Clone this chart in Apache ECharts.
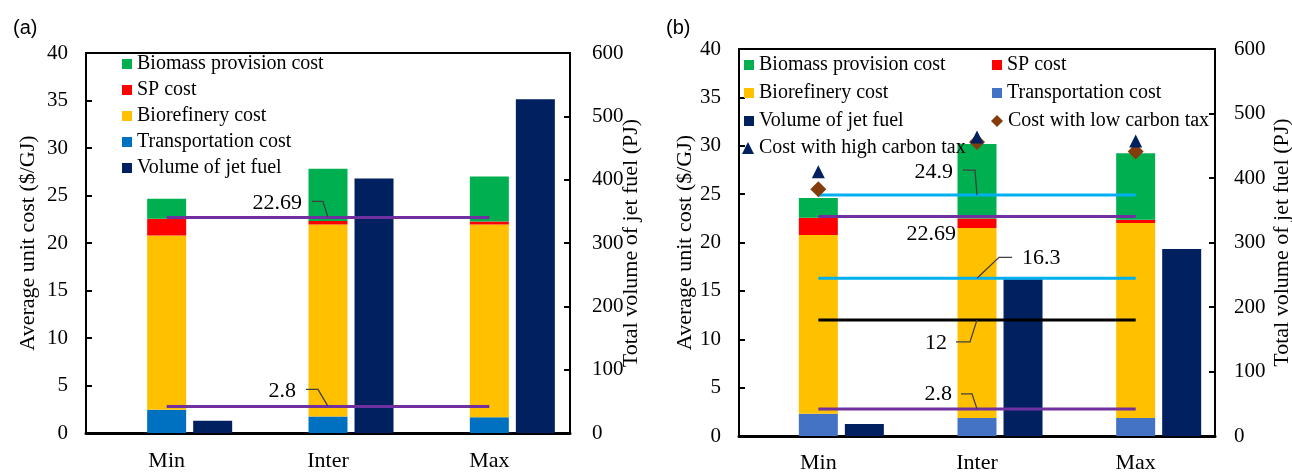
<!DOCTYPE html>
<html><head><meta charset="utf-8">
<script src="https://cdn.jsdelivr.net/npm/echarts@6/dist/echarts.min.js"></script>
<style>
html,body{margin:0;padding:0;background:#fff;}
#wrap{position:relative;width:1292px;height:473px;overflow:hidden;}
#ca{position:absolute;left:0;top:0;width:646px;height:473px;}
#cb{position:absolute;left:646px;top:0;width:646px;height:473px;}
</style>
</head><body>
<div id="wrap"><div id="ca"></div><div id="cb"></div></div>
<script>
// ---------- data ----------
const categories = ['Min', 'Inter', 'Max'];
const costAxisRange = [0, 40, 5];      // min, max, interval ($/GJ)
const volumeAxisRange = [0, 600, 100]; // min, max, interval (PJ)

// Panel (a)
const transportA   = [2.45, 1.75, 1.65];
const biorefineryA = [18.35, 20.2, 20.3];
const spA          = [1.75, 0.37, 0.32];
const biomassA     = [2.1, 5.5, 4.73];
const volumeA      = [19.5, 402, 527];
const refLinesA    = [22.69, 2.8];

// Panel (b)
const transportB   = [2.3, 1.86, 1.86];
const biorefineryB = [18.48, 19.65, 20.15];
const spB          = [1.79, 0.96, 0.34];
const biomassB     = [2.04, 7.7, 6.87];
const volumeB      = [18.6, 243, 290];
const lowTaxB      = [25.5, 30.4, 29.4];
const highTaxB     = [27.3, 30.9, 30.5];
const refLinesB    = [24.9, 22.69, 16.3, 12, 2.8];

// ---------- styles ----------
const SERIF = '"Liberation Serif", "Times New Roman", serif';
const C = {
  biomass: '#00B050', sp: '#FF0000', biorefinery: '#FFC000',
  transportA: '#0070C0', transportB: '#4472C4', volume: '#002060',
  purple: '#7030A0', cyan: '#00B0F0', black: '#000000',
  low: '#843C0C', high: '#002060'
};
const refLineColorsA = [C.purple, C.purple];
const refLineColorsB = [C.cyan, C.purple, C.cyan, C.black, C.purple];

// annotation layout (pixel offsets from the reference line at the "Inter" category)
const annotLayoutA = [
  { leader: [[0,0],[-5,-16],[-16,-16]], tx: -26, ty: -14, align: 'right' },
  { leader: [[0,0],[-10,-17],[-22,-17]], tx: -32, ty: -15, align: 'right' }
];
const annotLayoutB = [
  { leader: [[0,0],[-2,-25],[-14,-25]], tx: -24, ty: -23, align: 'right' },
  { leader: null, tx: -21, ty: 18, align: 'right' },
  { leader: [[0,0],[22,-21],[35,-21]], tx: 45, ty: -20, align: 'left' },
  { leader: [[0,0],[-7,22],[-21,22]], tx: -30, ty: 23, align: 'right' },
  { leader: [[0,0],[-5,-15],[-16,-15]], tx: -25, ty: -15, align: 'right' }
];

function annotRenderer(layout) {
  return function (params, api) {
    const L = layout[params.dataIndex];
    const p = api.coord([api.value(0), api.value(1)]);
    const children = [];
    if (L.leader) {
      children.push({
        type: 'polyline',
        shape: { points: L.leader.map(d => [p[0] + d[0], p[1] + d[1]]) },
        style: { stroke: '#404040', lineWidth: 1.3, fill: null }
      });
    }
    children.push({
      type: 'text',
      style: {
        text: String(api.value(1)), x: p[0] + L.tx, y: p[1] + L.ty,
        align: L.align, verticalAlign: 'middle',
        fontFamily: SERIF, fontSize: 22, fill: '#000'
      }
    });
    return { type: 'group', children };
  };
}

function axes(g) {
  const lab = { color: '#000', fontFamily: SERIF, fontSize: 21 };
  return {
    xAxis: {
      type: 'category', data: categories,
      axisLine: { lineStyle: { color: '#000', width: 3 } },
      axisTick: { show: false },
      axisLabel: { color: '#000', fontFamily: SERIF, fontSize: 22, margin: g.xMargin }
    },
    yAxis: [
      {
        type: 'value', position: 'left',
        min: costAxisRange[0], max: costAxisRange[1], interval: costAxisRange[2],
        name: 'Average unit cost ($/GJ)', nameLocation: 'middle', nameRotate: 90, nameGap: g.leftGap,
        nameMoveOverlap: false,
        nameTextStyle: { color: '#000', fontFamily: SERIF, fontSize: 22 },
        axisLine: { show: true, lineStyle: { color: '#000', width: 2 } },
        axisTick: { show: true, inside: true, length: 6, lineStyle: { color: '#000', width: 2 } },
        axisLabel: Object.assign({ margin: 18 }, lab),
        splitLine: { show: false }
      },
      {
        type: 'value', position: 'right',
        min: volumeAxisRange[0], max: volumeAxisRange[1], interval: volumeAxisRange[2],
        name: 'Total volume of jet fuel (PJ)', nameLocation: 'middle', nameRotate: 90, nameGap: g.rightGap,
        nameMoveOverlap: false,
        nameTextStyle: { color: '#000', fontFamily: SERIF, fontSize: 22 },
        axisLine: { show: true, lineStyle: { color: '#000', width: 2 } },
        axisTick: { show: true, inside: true, length: 6, lineStyle: { color: '#000', width: 2 } },
        axisLabel: Object.assign({ margin: g.rightMargin }, lab),
        splitLine: { show: false }
      }
    ]
  };
}

const BW = 39, GAP = '18%';
function barSeries(name, data, color, extra) {
  return Object.assign({
    name, type: 'bar', data, barWidth: BW, barGap: GAP,
    itemStyle: { color }, silent: true
  }, extra || {});
}
function stackSeries(t, b, s, m, tColor) {
  return [
    barSeries('spacer', categories.map(() => null), 'transparent'),
    barSeries('Transportation cost', t, tColor, { stack: 'cost' }),
    barSeries('Biorefinery cost', b, C.biorefinery, { stack: 'cost' }),
    barSeries('SP cost', s, C.sp, { stack: 'cost' }),
    barSeries('Biomass provision cost', m, C.biomass, { stack: 'cost' })
  ];
}
function refLineSeries(values, colors) {
  return values.map((v, i) => ({
    name: 'ref' + i, type: 'line', data: categories.map(() => v),
    symbol: 'none', silent: true, z: 3,
    lineStyle: { color: colors[i], width: 3 }
  }));
}
function annotSeries(values, layout) {
  return {
    name: 'annot', type: 'custom', clip: false, silent: true, z: 6,
    data: values.map(v => [categories[1], v]),
    renderItem: annotRenderer(layout)
  };
}
const legendText = { color: '#000', fontFamily: SERIF, fontSize: 20, lineHeight: 20 };
const titleStyle = { color: '#000', fontFamily: '"Liberation Sans", Arial, sans-serif', fontSize: 20, fontWeight: 'normal' };
const legendBase = { orient: 'vertical', padding: 0, textStyle: legendText, selectedMode: false };

// ---------- panel (a) ----------
const optA = Object.assign({
  animation: false,
  title: { text: '(a)', left: 8, top: 13, textStyle: titleStyle },
  grid: { left: 86, right: 76, top: 53, bottom: 40, show: true, borderColor: '#000', borderWidth: 2,
          outerBoundsMode: 'none', containLabel: false },
  legend: [Object.assign({}, legendBase, {
    left: 122, top: 54, itemWidth: 10, itemHeight: 10, itemGap: 6, icon: 'rect',
    data: ['Biomass provision cost', 'SP cost', 'Biorefinery cost', 'Transportation cost', 'Volume of jet fuel']
  })],
  series: [].concat(
    stackSeries(transportA, biorefineryA, spA, biomassA, C.transportA),
    [barSeries('Volume of jet fuel', volumeA, C.volume, { yAxisIndex: 1 })],
    refLineSeries(refLinesA, refLineColorsA),
    [annotSeries(refLinesA, annotLayoutA)]
  )
}, axes({ xMargin: 17, leftGap: 47, rightGap: 50, rightMargin: 22 }));

// ---------- panel (b) ----------
const optB = Object.assign({
  animation: false,
  title: { text: '(b)', left: 15, top: 13, textStyle: titleStyle },
  grid: { left: 93, right: 77, top: 49, bottom: 37, show: true, borderColor: '#000', borderWidth: 2,
          outerBoundsMode: 'none', containLabel: false },
  legend: [
    Object.assign({}, legendBase, { left: 98, top: 55, itemWidth: 10, itemHeight: 10, itemGap: 8, icon: 'rect',
      data: ['Biomass provision cost', 'Biorefinery cost', 'Volume of jet fuel'] }),
    Object.assign({}, legendBase, { left: 96, top: 138, itemWidth: 12, itemHeight: 12, itemGap: 8,
      data: ['Cost with high carbon tax'] }),
    Object.assign({}, legendBase, { left: 346, top: 55, itemWidth: 10, itemHeight: 10, itemGap: 8, icon: 'rect',
      data: ['SP cost', 'Transportation cost'] }),
    Object.assign({}, legendBase, { left: 345, top: 111, itemWidth: 12, itemHeight: 12, itemGap: 8,
      data: ['Cost with low carbon tax'] })
  ],
  series: [].concat(
    stackSeries(transportB, biorefineryB, spB, biomassB, C.transportB),
    [barSeries('Volume of jet fuel', volumeB, C.volume, { yAxisIndex: 1 })],
    refLineSeries(refLinesB, refLineColorsB),
    [
      { name: 'Cost with low carbon tax', type: 'scatter', data: lowTaxB, symbol: 'diamond',
        symbolSize: 16, itemStyle: { color: C.low, opacity: 1 }, z: 4, silent: true },
      { name: 'Cost with high carbon tax', type: 'scatter', data: highTaxB, symbol: 'triangle',
        symbolSize: [13, 13], itemStyle: { color: C.high, opacity: 1 }, z: 5, silent: true }
    ],
    [annotSeries(refLinesB, annotLayoutB)]
  )
}, axes({ xMargin: 16, leftGap: 43, rightGap: 56, rightMargin: 19 }));

echarts.init(document.getElementById('ca'), null, { renderer: 'canvas' }).setOption(optA);
echarts.init(document.getElementById('cb'), null, { renderer: 'canvas' }).setOption(optB);
</script>
</body></html>
